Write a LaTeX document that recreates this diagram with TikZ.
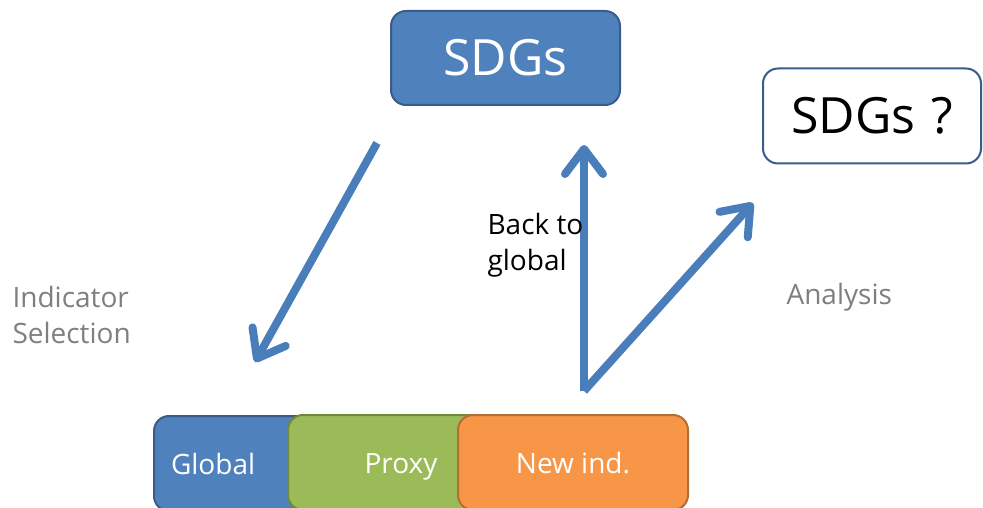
\documentclass[tikz,border=0pt]{standalone}
\usepackage{fontspec}
\setmainfont{Open Sans}
\usetikzlibrary{arrows.meta, positioning}

\definecolor{sdgblue}{HTML}{4F81BD}
\definecolor{sdgblueline}{HTML}{385D8A}
\definecolor{arrowblue}{HTML}{4A7EBB}
\definecolor{proxygreen}{HTML}{9BBB59}
\definecolor{proxygreenline}{HTML}{71893F}
\definecolor{newindorange}{HTML}{F79646}
\definecolor{newindorangeline}{HTML}{B66D31}
\definecolor{labelgray}{HTML}{7F7F7F}

\begin{document}
\begin{tikzpicture}[x=1pt, y=-1pt,
        box/.style={rectangle, rounded corners=15pt, line width=2pt, inner sep=0pt},
        smallbox/.style={box, minimum height=95pt, text=white, text height=22pt, text depth=0pt,
            font=\fontsize{28}{34}\selectfont},
        flow/.style={arrowblue, line width=8pt, -{Straight Barb[length=25pt, width=38pt, round]}},
        caption/.style={align=left, font=\fontsize{28}{36}\selectfont, anchor=west}]
    \useasboundingbox (0, 0) rectangle (983, 508);
    \clip (0, 0) rectangle (983, 508);

    % top boxes
    \node[box, fill=sdgblue, draw=sdgblueline, text=white, minimum width=229pt, minimum height=94pt,
        font=\fontsize{50}{60}\selectfont] (sdgs) at (505.5, 58) {SDGs};
    \node[box, fill=white, draw=sdgblueline, minimum width=218pt, minimum height=95pt,
        font=\fontsize{50}{60}\selectfont] (sdgsq) at (872, 116) {SDGs\hspace{16pt}?};

    % bottom boxes
    \node[smallbox, fill=sdgblue, draw=sdgblueline, anchor=north west, text width=180pt,
        inner xsep=17pt, align=left] (global) at (153, 415) {Global};
    \node[smallbox, fill=proxygreen, draw=proxygreenline, minimum width=226pt] (proxy) at (401, 462.5) {Proxy};
    \node[smallbox, fill=newindorange, draw=newindorangeline, minimum width=230pt] (newind) at (573, 462.5) {New ind.};

    % arrows
    \coordinate (selstart) at (377, 143);
    \coordinate (selend) at (255, 362);
    \coordinate (corner) at (584, 391);
    \coordinate (backend) at (584, 145);
    \coordinate (anaend) at (753, 203);

    \draw[flow] (selstart) -- (selend);
    \draw[flow] (corner) -- (backend);
    \draw[flow] (corner) -- (anaend);

    % labels
    \node[caption, text=labelgray] (selection) at (9, 315) {Indicator\\Selection};
    \node[caption] (back) at (484, 245) {Back to\\global};
    \node[caption, text=labelgray] (analysis) at (783, 297) {Analysis};
\end{tikzpicture}
\end{document}
